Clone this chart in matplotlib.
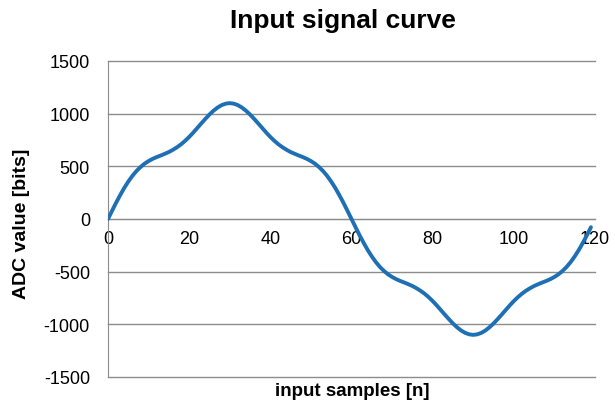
import numpy as np
import matplotlib

matplotlib.use("Agg")
import matplotlib.pyplot as plt

plt.rcParams['font.family'] = ['Liberation Sans', 'DejaVu Sans']
plt.rcParams['axes.unicode_minus'] = False

# ADC samples (n = 0..119)
samples = np.arange(120)
adc_values = [
    0, 78, 155, 227, 295, 355, 409, 455, 493, 525,
    550, 571, 588, 603, 619, 636, 657, 681, 709, 742,
    779, 820, 864, 908, 951, 992, 1028, 1058, 1081, 1095,
    1100, 1095, 1081, 1058, 1028, 992, 951, 908, 864, 820,
    779, 742, 709, 681, 657, 636, 619, 603, 588, 571,
    550, 525, 493, 455, 409, 355, 295, 227, 155, 78,
    0, -78, -155, -227, -295, -355, -409, -455, -493, -525,
    -550, -571, -588, -603, -619, -636, -657, -681, -709, -742,
    -779, -820, -864, -908, -951, -992, -1028, -1058, -1081, -1095,
    -1100, -1095, -1081, -1058, -1028, -992, -951, -908, -864, -820,
    -779, -742, -709, -681, -657, -636, -619, -603, -588, -571,
    -550, -525, -493, -455, -409, -355, -295, -227, -155, -78,
]
x_ticks = [0, 20, 40, 60, 80, 100, 120]
y_ticks = [-1500, -1000, -500, 0, 500, 1000, 1500]

W, H = 615, 406
fig = plt.figure(figsize=(W / 100, H / 100), dpi=100)
ax = fig.add_axes([108 / W, 1 - 378 / H, (595 - 108) / W, (378 - 62) / H])

ax.plot(samples, adc_values, color="#1f6fb5", linewidth=2.8, solid_capstyle="round", zorder=3)

ax.set_xlim(0, 120)
ax.set_ylim(-1500, 1500)
ax.set_xticks(x_ticks)
ax.set_yticks(y_ticks)
ax.tick_params(axis="both", length=0, labelsize=13)
ax.tick_params(axis="y", pad=13)
ax.tick_params(axis="x", pad=8)

# horizontal gridlines, including the top and bottom edges
for yv in y_ticks:
    ax.axhline(yv, color="#8c8c8c", linewidth=1.0, zorder=1, clip_on=False)
for side in ["top", "right"]:
    ax.spines[side].set_visible(False)
ax.spines["left"].set_color("#8c8c8c")
ax.spines["bottom"].set_position(("data", 0))
ax.spines["bottom"].set_color("#8c8c8c")

fig.text(343 / W, 1 - 21 / H, "Input signal curve",
         fontsize=19, fontweight="bold", ha="center", va="center")
fig.text(22 / W, 1 - 224 / H, "ADC value [bits]", rotation=90,
         fontsize=14, fontweight="bold", ha="center", va="center")
fig.text(352 / W, 1 - 392 / H, "input samples [n]",
         fontsize=13.5, fontweight="bold", ha="center", va="center")

fig.savefig("out.png", dpi=100)
